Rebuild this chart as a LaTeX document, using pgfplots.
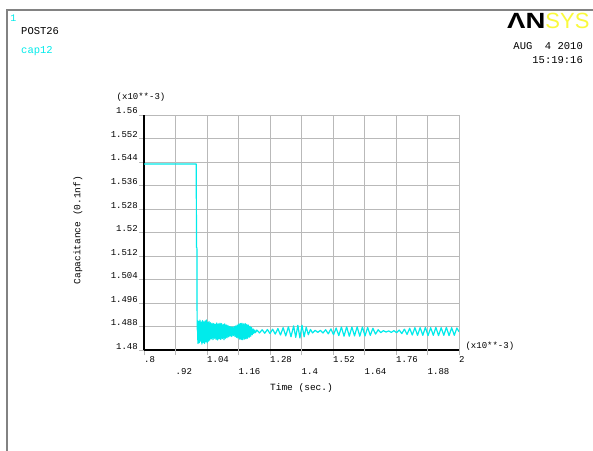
\documentclass[border=0pt]{standalone}
\usepackage{pgfplots}
\pgfplotsset{compat=1.18}
\usepackage{fontspec}
\setmainfont{Liberation Mono}
\newfontfamily\logofont{Liberation Sans}
\definecolor{gridgray}{RGB}{185,185,185}
\definecolor{framegray}{RGB}{130,130,130}
\definecolor{ansyscyan}{RGB}{0,235,235}
\definecolor{ansysyellow}{RGB}{250,250,60}

\pgfplotstableread{
x y
0.8000 1.5433
0.9990 1.5433
1.0000 1.5150
1.0015 1.5148
1.0025 1.4870
1.0030 1.4900
1.0055 1.4822
1.0080 1.4898
1.0105 1.4825
1.0130 1.4902
1.0155 1.4830
1.0180 1.4895
1.0205 1.4820
1.0230 1.4900
1.0255 1.4826
1.0280 1.4896
1.0305 1.4822
1.0330 1.4899
1.0355 1.4828
1.0380 1.4902
1.0405 1.4824
1.0430 1.4894
1.0455 1.4830
1.0480 1.4897
1.0505 1.4834
1.0535 1.4893
1.0565 1.4838
1.0595 1.4891
1.0625 1.4835
1.0655 1.4890
1.0685 1.4840
1.0715 1.4888
1.0745 1.4836
1.0775 1.4892
1.0805 1.4834
1.0835 1.4889
1.0865 1.4838
1.0895 1.4891
1.0925 1.4836
1.0955 1.4890
1.0985 1.4839
1.1015 1.4887
1.1045 1.4835
1.1075 1.4889
1.1105 1.4840
1.1135 1.4885
1.1165 1.4842
1.1195 1.4884
1.1225 1.4845
1.1255 1.4880
1.1285 1.4848
1.1315 1.4879
1.1345 1.4846
1.1375 1.4878
1.1405 1.4849
1.1435 1.4880
1.1465 1.4846
1.1495 1.4882
1.1525 1.4843
1.1555 1.4885
1.1585 1.4840
1.1615 1.4889
1.1645 1.4837
1.1675 1.4890
1.1705 1.4836
1.1735 1.4891
1.1765 1.4835
1.1795 1.4889
1.1825 1.4837
1.1855 1.4890
1.1885 1.4838
1.1915 1.4887
1.1945 1.4840
1.1975 1.4885
1.2005 1.4843
1.2035 1.4881
1.2065 1.4847
1.2095 1.4877
1.2125 1.4852
1.2155 1.4872
1.2185 1.4857
1.2215 1.4868
1.2245 1.4859
1.230 1.4868
1.240 1.4858
1.250 1.4869
1.260 1.4857
1.270 1.4870
1.280 1.4856
1.290 1.4871
1.300 1.4854
1.310 1.4873
1.320 1.4851
1.330 1.4876
1.340 1.4848
1.350 1.4879
1.360 1.4845
1.370 1.4882
1.378 1.4843
1.386 1.4884
1.394 1.4841
1.402 1.4884
1.410 1.4845
1.418 1.4878
1.426 1.4852
1.434 1.4870
1.442 1.4858
1.452 1.4867
1.462 1.4860
1.472 1.4867
1.482 1.4858
1.492 1.4869
1.502 1.4855
1.512 1.4872
1.522 1.4852
1.532 1.4875
1.542 1.4849
1.552 1.4878
1.562 1.4847
1.572 1.4879
1.582 1.4847
1.592 1.4878
1.602 1.4848
1.612 1.4879
1.622 1.4847
1.632 1.4878
1.642 1.4848
1.652 1.4877
1.662 1.4850
1.672 1.4874
1.682 1.4854
1.692 1.4869
1.702 1.4859
1.712 1.4866
1.722 1.4861
1.732 1.4865
1.742 1.4860
1.752 1.4866
1.762 1.4859
1.772 1.4868
1.782 1.4856
1.792 1.4871
1.802 1.4853
1.812 1.4874
1.822 1.4851
1.832 1.4876
1.842 1.4850
1.852 1.4876
1.862 1.4850
1.872 1.4877
1.882 1.4849
1.892 1.4876
1.902 1.4850
1.912 1.4877
1.922 1.4849
1.932 1.4876
1.942 1.4850
1.952 1.4877
1.962 1.4849
1.972 1.4876
1.982 1.4850
1.992 1.4875
2.000 1.4862
}\captable

\begin{document}
\begin{tikzpicture}[x=1pt,y=1pt]
\useasboundingbox (0pt,0pt) rectangle (593pt,450pt);
\fill[white] (0pt,0pt) rectangle (593pt,450pt);
\draw[framegray, line width=1.5pt] (7pt,-5pt) -- (7pt,440pt) -- (600pt,440pt);
\node[ansyscyan, font=\fontsize{10}{12}\selectfont, inner sep=0] at (13.5pt,432pt) {1};
\node[anchor=west, font=\fontsize{10.5}{12}\selectfont, inner sep=0] at (21pt,419pt) {POST26};
\node[anchor=west, ansyscyan, font=\fontsize{10.5}{12}\selectfont, inner sep=0] at (21pt,399pt) {cap12};
\node[anchor=west, inner sep=0, font=\logofont\fontsize{22}{24}\selectfont] at (507pt,429pt)
  {\textbf{\scalebox{1.25}[1]{ΛN}}\textcolor{ansysyellow}{SYS}};
\node[anchor=east, font=\fontsize{10.5}{12}\selectfont, inner sep=0] at (583pt,404pt) {AUG~~4 2010};
\node[anchor=east, font=\fontsize{10.5}{12}\selectfont, inner sep=0] at (583pt,390pt) {15:19:16};
\begin{axis}[
  at={(144pt,100pt)}, anchor=south west,
  scale only axis, width=315pt, height=235pt,
  xmin=0.8, xmax=2, ymin=1.48, ymax=1.56,
  axis x line=bottom, axis y line=left,
  axis line style={-, line width=2.6pt, black},
  grid=major,
  major grid style={gridgray, line width=0.8pt},
  tick align=outside, major tick length=5pt,
  tick style={gridgray, line width=0.8pt},
  xtick={0.8,1.04,1.28,1.52,1.76,2},
  xticklabels={.8,1.04,1.28,1.52,1.76,2},
  extra x ticks={0.92,1.16,1.4,1.64,1.88},
  extra x tick labels={.92,1.16,1.4,1.64,1.88},
  extra x tick style={grid=major, major grid style={gridgray, line width=0.8pt},
    tick style={gridgray, line width=0.8pt},
    xticklabel style={yshift=-12pt}},
  xticklabel style={anchor=north west, inner sep=1pt, xshift=-1pt, font=\fontsize{9}{10}\selectfont},
  ytick={1.48,1.488,1.496,1.504,1.512,1.52,1.528,1.536,1.544,1.552,1.56},
  yticklabels={1.48,1.488,1.496,1.504,1.512,1.52,1.528,1.536,1.544,1.552,1.56},
  yticklabel style={anchor=base east, inner sep=1pt, yshift=1pt, font=\fontsize{9}{10}\selectfont},
  scaled x ticks=false, scaled y ticks=false,
  xlabel={Time (sec.)},
  xlabel style={at={(axis description cs:0.5,-0.162)}, anchor=center, font=\fontsize{9.5}{10}\selectfont},
  ylabel={Capacitance (0.1nf)},
  ylabel style={at={(axis description cs:-0.2095,0.51)}, anchor=center, rotate=0, font=\fontsize{9.5}{10}\selectfont},
  clip mode=individual,
]
\addplot[ansyscyan, line width=1.2pt, line join=round] table[x=x, y=y] {\captable};
\node[font=\fontsize{9}{10}\selectfont] at (axis description cs:-0.0095,1.0766) {(x10**-3)};
\node[font=\fontsize{9}{10}\selectfont] at (axis description cs:1.098,0.017) {(x10**-3)};
\end{axis}
\end{tikzpicture}
\end{document}
